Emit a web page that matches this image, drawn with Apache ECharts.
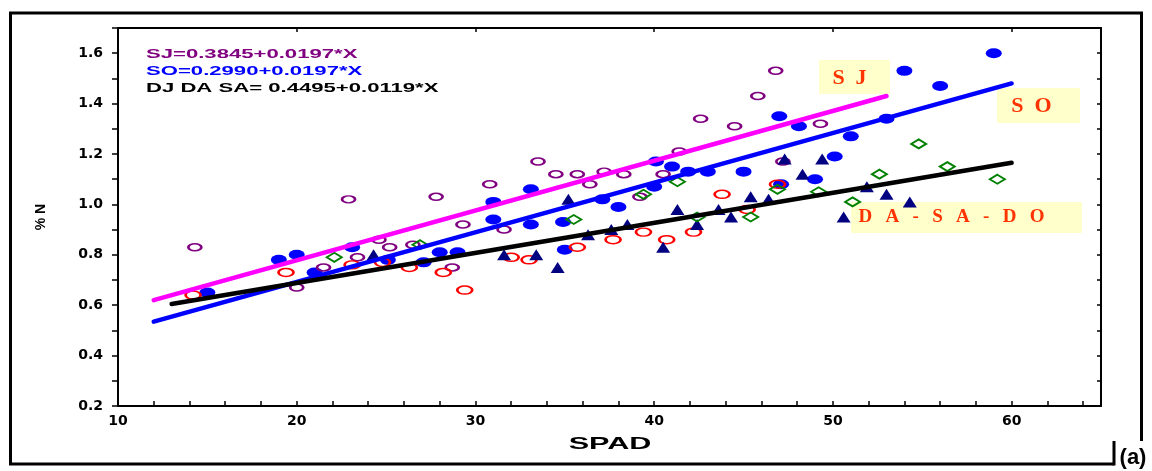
<!DOCTYPE html>
<html><head><meta charset="utf-8">
<script src="https://cdn.jsdelivr.net/npm/echarts@6/dist/echarts.min.js"></script>
<style>html,body{margin:0;padding:0;background:#fff}#c{width:1152px;height:471px}</style>
</head><body><div id="c"></div><script>
// ---- data ----
const xLabelTicks = [10, 20, 30, 40, 50, 60];
const yLabelTicks = [0.2, 0.4, 0.6, 0.8, 1.0, 1.2, 1.4, 1.6];

const sjPoints = [[14.3,0.83],[22.9,1.02],[27.8,1.03],[29.3,0.92],[24.6,0.86],[25.2,0.83],[26.5,0.84],[23.4,0.79],[21.5,0.75],[20.0,0.67],[28.7,0.75],[30.8,1.08],[31.6,0.90],[33.5,1.17],[34.5,1.12],[35.7,1.12],[36.4,1.08],[37.2,1.13],[38.3,1.12],[40.5,1.12],[39.2,1.03],[41.4,1.21],[42.6,1.34],[44.5,1.31],[45.8,1.43],[46.8,1.53],[49.3,1.32],[47.2,1.17]];
const soPoints = [[15.0,0.65],[19.0,0.78],[20.0,0.80],[21.0,0.73],[23.1,0.83],[25.1,0.78],[27.1,0.77],[28.0,0.81],[29.0,0.81],[31.0,1.01],[33.1,1.06],[31.0,0.94],[33.1,0.92],[34.9,0.93],[35.0,0.82],[37.1,1.02],[38.0,0.99],[40.0,1.07],[40.1,1.17],[41.0,1.15],[41.9,1.13],[43.0,1.13],[45.0,1.13],[47.0,1.35],[48.1,1.31],[53.0,1.34],[51.0,1.27],[50.1,1.19],[49.0,1.10],[47.1,1.08],[59.0,1.60],[54.0,1.53],[56.0,1.47]];
const daPoints = [[14.2,0.64],[19.4,0.73],[23.1,0.76],[24.8,0.77],[26.3,0.75],[28.2,0.73],[29.4,0.66],[32.0,0.79],[33.0,0.78],[35.7,0.83],[37.7,0.86],[39.4,0.89],[40.7,0.86],[42.2,0.89],[43.8,1.04],[45.2,0.98],[46.9,1.08]];
const saPoints = [[24.3,0.80],[35.2,1.02],[41.3,0.98],[45.4,1.03],[46.4,1.02],[43.6,0.98],[44.3,0.95],[42.4,0.92],[38.5,0.92],[37.6,0.90],[36.3,0.88],[31.6,0.80],[33.4,0.80],[34.6,0.75],[40.5,0.83],[47.3,1.18],[49.4,1.18],[48.3,1.12],[51.9,1.07],[53.0,1.04],[54.3,1.01],[50.6,0.95]];
const doPoints = [[22.1,0.79],[26.9,0.84],[35.5,0.94],[39.4,1.04],[41.3,1.09],[42.4,0.95],[45.4,0.95],[46.9,1.06],[49.2,1.05],[52.6,1.12],[51.1,1.01],[54.8,1.24],[56.4,1.15],[59.2,1.10]];

const sjFit = [[12, 0.62], [53, 1.43]];
const soFit = [[12, 0.535], [60, 1.48]];
const dFit  = [[13, 0.605], [60, 1.165]];

const eqSJ = 'SJ=0.3845+0.0197*X';
const eqSO = 'SO=0.2990+0.0197*X';
const eqD  = 'DJ DA SA= 0.4495+0.0119*X';
const gap = '  \u2009';
const labSJ = 'S' + '  ' + 'J';
const labSO = 'S' + '  ' + 'O';
const labD  = ['D','A','-','S','A','-','D','O'].join(gap);

// ---- chart ----
const chart = echarts.init(document.getElementById('c'), null, {renderer: 'canvas'});
const ell = 'path://M0,5a5,5 0 1,0 10,0a5,5 0 1,0 -10,0z';
const tickFont = {color: '#000', fontFamily: 'DejaVu Sans', fontWeight: 'bold', fontSize: 14};
const near = (v, arr) => arr.some(t => Math.abs(t - v) < 1e-6);

function openSeries(name, data, color, symbol, size) {
  return {name, type: 'scatter', data, symbol, symbolSize: size, z: 2,
    itemStyle: {color: 'rgba(0,0,0,0)', borderColor: color, borderWidth: 2, opacity: 1},
    emphasis: {disabled: true}};
}
function fillSeries(name, data, color, symbol, size) {
  return {name, type: 'scatter', data, symbol, symbolSize: size, z: 2,
    itemStyle: {color, opacity: 1}, emphasis: {disabled: true}};
}
function fitSeries(name, data, color) {
  return {name, type: 'line', data, symbol: 'none', z: 3, silent: true,
    lineStyle: {color, width: 4.5, cap: 'round'}};
}

chart.setOption({
  animation: false,
  backgroundColor: '#fff',
  grid: {left: 118, right: 51, top: 28, bottom: 65},
  xAxis: [{
    type: 'value', min: 10, max: 65, interval: 2, position: 'bottom',
    axisLine: {lineStyle: {color: '#000', width: 2}},
    axisTick: {inside: true, length: 5, lineStyle: {color: '#000', width: 1.5}},
    axisLabel: Object.assign({margin: 8, formatter: v => near(v, xLabelTicks) ? String(v) : ''}, tickFont),
    splitLine: {show: false}
  }, {
    type: 'value', min: 10, max: 65, interval: 10, position: 'top',
    axisLine: {show: true, lineStyle: {color: '#000', width: 2}},
    axisTick: {show: true, inside: true, length: 4, lineStyle: {color: '#000', width: 1.5}},
    axisLabel: {show: false}, splitLine: {show: false}
  }],
  yAxis: [{
    type: 'value', min: 0.2, max: 1.7, interval: 0.1, position: 'left',
    name: '% N', nameLocation: 'middle', nameRotate: 90, nameGap: 70,
    nameTextStyle: {color: '#000', fontFamily: 'Liberation Sans', fontWeight: 'bold', fontSize: 14},
    axisLine: {show: true, lineStyle: {color: '#000', width: 2}},
    axisTick: {show: true, inside: false, length: 6, lineStyle: {color: '#000', width: 1.5}},
    axisLabel: Object.assign({margin: 15, formatter: v => near(+v.toFixed(2), yLabelTicks) ? v.toFixed(1) : ''}, tickFont),
    splitLine: {show: false}
  }, {
    type: 'value', min: 0.2, max: 1.7, interval: 0.1, position: 'right',
    axisLine: {show: true, lineStyle: {color: '#000', width: 2}},
    axisTick: {show: true, inside: true, length: 4, lineStyle: {color: '#000', width: 1.5}},
    axisLabel: {show: false}, splitLine: {show: false}
  }],
  series: [
    fillSeries('SO', soPoints, '#0000FF', ell, [16, 10]),
    openSeries('SJ', sjPoints, '#800080', ell, [13, 7]),
    openSeries('DA', daPoints, '#FF0000', ell, [15, 8]),
    fillSeries('SA', saPoints, '#000080', 'triangle', [14, 11]),
    openSeries('DO', doPoints, '#008000', 'diamond', [15, 9]),
    fitSeries('SJ fit', sjFit, '#FF00FF'),
    fitSeries('SO fit', soFit, '#0000FF'),
    fitSeries('DJ DA SA fit', dFit, '#000000')
  ],
  graphic: [
    {type: 'rect', shape: {x: 10.5, y: 13, width: 1131, height: 451}, style: {fill: 'none', stroke: '#000', lineWidth: 3}, z: 10},
    {type: 'rect', shape: {x: 1114, y: 441, width: 38, height: 30}, style: {fill: '#fff', stroke: 'none'}, z: 11},
    {type: 'line', shape: {x1: 1114, y1: 441, x2: 1114, y2: 465.5}, style: {stroke: '#000', lineWidth: 3}, z: 12},
    {type: 'text', x: 1133, y: 458, z: 12, style: {text: '(a)', fill: '#000', font: 'bold 22px "Liberation Sans"', textAlign: 'center', textVerticalAlign: 'middle'}},
    {type: 'text', x: 146, y: 54, scaleX: 1.7, z: 10, style: {text: eqSJ, fill: '#800080', font: 'bold 13px "Liberation Sans"', textVerticalAlign: 'middle'}},
    {type: 'text', x: 146, y: 71, scaleX: 1.7, z: 10, style: {text: eqSO, fill: '#0000FF', font: 'bold 13px "Liberation Sans"', textVerticalAlign: 'middle'}},
    {type: 'text', x: 146, y: 88, scaleX: 1.7, z: 10, style: {text: eqD, fill: '#000', font: 'bold 13px "Liberation Sans"', textVerticalAlign: 'middle'}},
    {type: 'text', x: 610, y: 444, scaleX: 1.8, z: 10, style: {text: 'SPAD', fill: '#000', font: 'bold 17px "Liberation Sans"', textAlign: 'center', textVerticalAlign: 'middle'}},
    {type: 'rect', shape: {x: 819, y: 60, width: 71, height: 34}, style: {fill: '#FFFFCC'}, z: 1},
    {type: 'text', x: 849.5, y: 78, z: 1, style: {text: labSJ, fill: '#FF3300', font: 'bold 22px "Liberation Serif"', textAlign: 'center', textVerticalAlign: 'middle'}},
    {type: 'rect', shape: {x: 997, y: 88, width: 83, height: 35}, style: {fill: '#FFFFCC'}, z: 1},
    {type: 'text', x: 1031.5, y: 106.5, z: 1, style: {text: labSO, fill: '#FF3300', font: 'bold 22px "Liberation Serif"', textAlign: 'center', textVerticalAlign: 'middle'}},
    {type: 'rect', shape: {x: 851, y: 202, width: 231, height: 31}, style: {fill: '#FFFFCC'}, z: 1},
    {type: 'text', x: 951.5, y: 217.5, z: 1, style: {text: labD, fill: '#FF3300', font: 'bold 19px "Liberation Serif"', textAlign: 'center', textVerticalAlign: 'middle'}}
  ]
});
</script></body></html>
